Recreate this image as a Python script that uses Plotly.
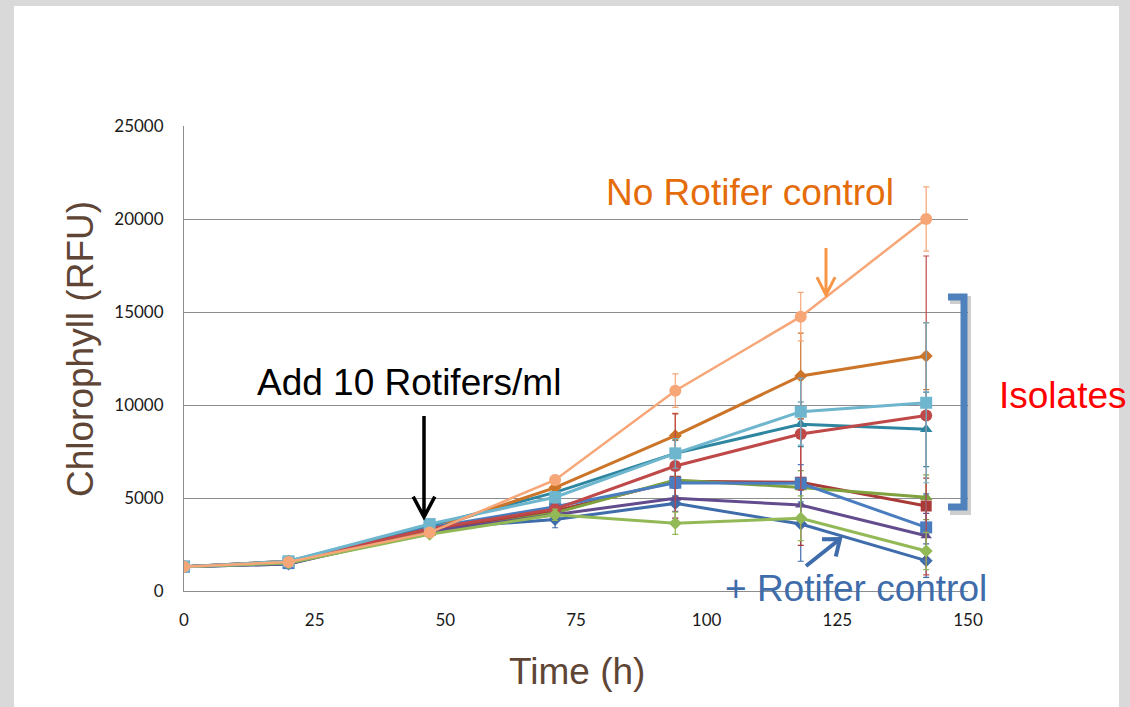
import math
import plotly.graph_objects as go

# Sampling times (h)
time_h = [0, 20, 47, 71, 94, 118, 142]

# Chlorophyll readings (RFU) per culture, with standard deviations
rotifer_ctrl = [1310, 1450, 3350, 3850, 4710, 3600, 1630]
rotifer_ctrl_sd = [50, 100, 200, 450, 800, 2000, 900]

isolate_b = [1310, 1550, 3250, 4300, 5900, 5850, 4570]
isolate_b_sd = [50, 100, 150, 300, 800, 3400, 1500]

isolate_c = [1310, 1500, 3100, 4200, 5970, 5570, 5040]
isolate_c_sd = [50, 100, 150, 300, 900, 900, 1200]

isolate_d = [1310, 1450, 3200, 4100, 4980, 4620, 2970]
isolate_d_sd = [50, 100, 150, 300, 700, 800, 1200]

isolate_e = [1310, 1600, 3500, 5300, 7400, 8960, 8690]
isolate_e_sd = [50, 100, 150, 300, 700, 1200, 2000]

isolate_f = [1310, 1600, 3300, 5560, 8350, 11560, 12630]
isolate_f_sd = [50, 100, 150, 300, 1200, 2300, 1800]

isolate_g = [1310, 1500, 3400, 4530, 5820, 5790, 3420]
isolate_g_sd = [50, 100, 150, 300, 700, 1000, 1800]

isolate_h = [1310, 1580, 3350, 4400, 6720, 8440, 9440]
isolate_h_sd = [50, 100, 150, 300, 2800, 3000, 8570]

isolate_i = [1310, 1500, 3050, 4100, 3640, 3910, 2150]
isolate_i_sd = [50, 100, 150, 300, 600, 1200, 1000]

isolate_j = [1310, 1600, 3600, 5040, 7400, 9640, 10120]
isolate_j_sd = [50, 100, 150, 300, 800, 1800, 4300]

no_rotifer_ctrl = [1310, 1560, 3140, 5970, 10770, 14750, 20000]
no_rotifer_ctrl_sd = [50, 100, 150, 250, 900, 1300, 1730]

x_ticks = [0, 25, 50, 75, 100, 125, 150]
y_ticks = [0, 5000, 10000, 15000, 20000, 25000]
y_tick_labels = ["0", "5000", "10000", "15000", "20000", "25000"]

series = [
    ("+ Rotifer control", rotifer_ctrl, rotifer_ctrl_sd, "#3F6CAA", "diamond", 10),
    ("Isolate B", isolate_b, isolate_b_sd, "#A93A38", "square", 11),
    ("Isolate C", isolate_c, isolate_c_sd, "#7FA23E", "triangle-up", 11),
    ("Isolate D", isolate_d, isolate_d_sd, "#634C8E", "triangle-up", 10),
    ("Isolate E", isolate_e, isolate_e_sd, "#2E86A0", "triangle-up", 11),
    ("Isolate F", isolate_f, isolate_f_sd, "#CC7428", "diamond", 10),
    ("Isolate G", isolate_g, isolate_g_sd, "#4A7DBF", "square", 12),
    ("Isolate H", isolate_h, isolate_h_sd, "#BF4848", "circle", 12),
    ("Isolate I", isolate_i, isolate_i_sd, "#93B957", "diamond", 10),
    ("Isolate J", isolate_j, isolate_j_sd, "#6EB6CE", "square", 12),
    ("No Rotifer control", no_rotifer_ctrl, no_rotifer_ctrl_sd, "#F7A678", "circle", 12),
]

W, H = 1130, 707
L, R, T, B = 184, 968, 126, 591  # plot-area edges in pixels


def px(x):
    return (x - L) / (R - L)


def py(y):
    return (B - y) / (B - T)


fig = go.Figure()
for name, vals, sd, color, sym, size in series:
    fig.add_trace(go.Scatter(
        x=time_h, y=vals, name=name, mode="lines+markers",
        line=dict(color=color, width=3 if name != "No Rotifer control" else 2.5),
        marker=dict(symbol=sym, size=size, color=color),
        error_y=dict(type="data", array=sd, visible=True, color=color,
                     thickness=1.2, width=3),
    ))


def arrow_path(x0, y0, x1, y1, head=20, ang=32):
    """Open V-headed arrow from (x0,y0) to tip (x1,y1), pixel coords."""
    dx, dy = x0 - x1, y0 - y1
    n = math.hypot(dx, dy)
    ux, uy = dx / n, dy / n
    a = math.radians(ang)
    pts = []
    for s in (1, -1):
        rx = ux * math.cos(s * a) - uy * math.sin(s * a)
        ry = ux * math.sin(s * a) + uy * math.cos(s * a)
        pts.append((x1 + rx * head, y1 + ry * head))
    p = f"M {px(x0)},{py(y0)} L {px(x1)},{py(y1)} "
    p += f"M {px(pts[0][0])},{py(pts[0][1])} L {px(x1)},{py(y1)} L {px(pts[1][0])},{py(pts[1][1])}"
    return p


shapes = [
    # slide background and frame
    dict(type="rect", xref="paper", yref="paper", x0=px(0), x1=px(W), y0=py(H), y1=py(0),
         fillcolor="#D9D9D9", line=dict(width=0), layer="below"),
    dict(type="rect", xref="paper", yref="paper", x0=px(14), x1=px(1119), y0=py(H), y1=py(6),
         fillcolor="white", line=dict(width=0), layer="below"),
    # arrows
    dict(type="path", xref="paper", yref="paper", path=arrow_path(424, 416, 424, 517, 23, 28),
         line=dict(color="black", width=3.5)),
    dict(type="path", xref="paper", yref="paper", path=arrow_path(826, 248, 826, 295, 20, 27),
         line=dict(color="#F79646", width=3)),
    dict(type="path", xref="paper", yref="paper", path=arrow_path(806, 566, 840, 539, 18, 38),
         line=dict(color="#3F6CAA", width=4)),
    # bracket shadow and bracket
    dict(type="path", xref="paper", yref="paper",
         path=f"M {px(950)},{py(300)} L {px(967)},{py(300)} L {px(967)},{py(511)} L {px(950)},{py(511)}",
         line=dict(color="rgba(60,60,60,0.25)", width=8)),
    dict(type="path", xref="paper", yref="paper",
         path=f"M {px(948)},{py(297)} L {px(964)},{py(297)} L {px(964)},{py(507)} L {px(948)},{py(507)}",
         line=dict(color="#4F81BD", width=7)),
]

ann_font = "Liberation Sans, Arial, sans-serif"
annotations = [
    dict(text="Chlorophyll (RFU)", x=px(80), y=py(349), textangle=-90,
         font=dict(family=ann_font, size=37, color="#5E4535")),
    dict(text="Time (h)", x=px(577), y=py(671),
         font=dict(family=ann_font, size=37, color="#5E4535")),
    dict(text="No Rotifer control", x=px(750), y=py(192),
         font=dict(family=ann_font, size=37, color="#E46C0A")),
    dict(text="Add 10 Rotifers/ml", x=px(409), y=py(382),
         font=dict(family=ann_font, size=37, color="black")),
    dict(text="Isolates", x=px(1063), y=py(395),
         font=dict(family=ann_font, size=37, color="#FF0000")),
    dict(text="+ Rotifer control", x=px(856), y=py(588),
         font=dict(family=ann_font, size=37, color="#3F6CAA")),
]
for a in annotations:
    a.update(xref="paper", yref="paper", showarrow=False, xanchor="center", yanchor="middle")

tick_font = dict(family="Lato, Carlito, sans-serif", size=17, color="#1A1A1A")
fig.update_layout(
    width=W, height=H, autosize=False,
    margin=dict(l=L, r=W - R, t=T, b=H - B, pad=0),
    paper_bgcolor="white", plot_bgcolor="white",
    showlegend=False,
    shapes=shapes, annotations=annotations,
    xaxis=dict(range=[0, 150], tickvals=x_ticks, showgrid=False, zeroline=False,
               showline=True, linecolor="#8C8C8C", linewidth=1, ticks="",
               tickfont=tick_font, ticklabelstandoff=14),
    yaxis=dict(range=[0, 25000], tickvals=y_ticks, ticktext=y_tick_labels,
               showgrid=True, gridcolor="#8C8C8C",
               gridwidth=1, zeroline=False, showline=True, linecolor="#8C8C8C",
               linewidth=1, ticks="", tickfont=tick_font, ticklabelstandoff=16),
)

fig.write_html("out.html")
